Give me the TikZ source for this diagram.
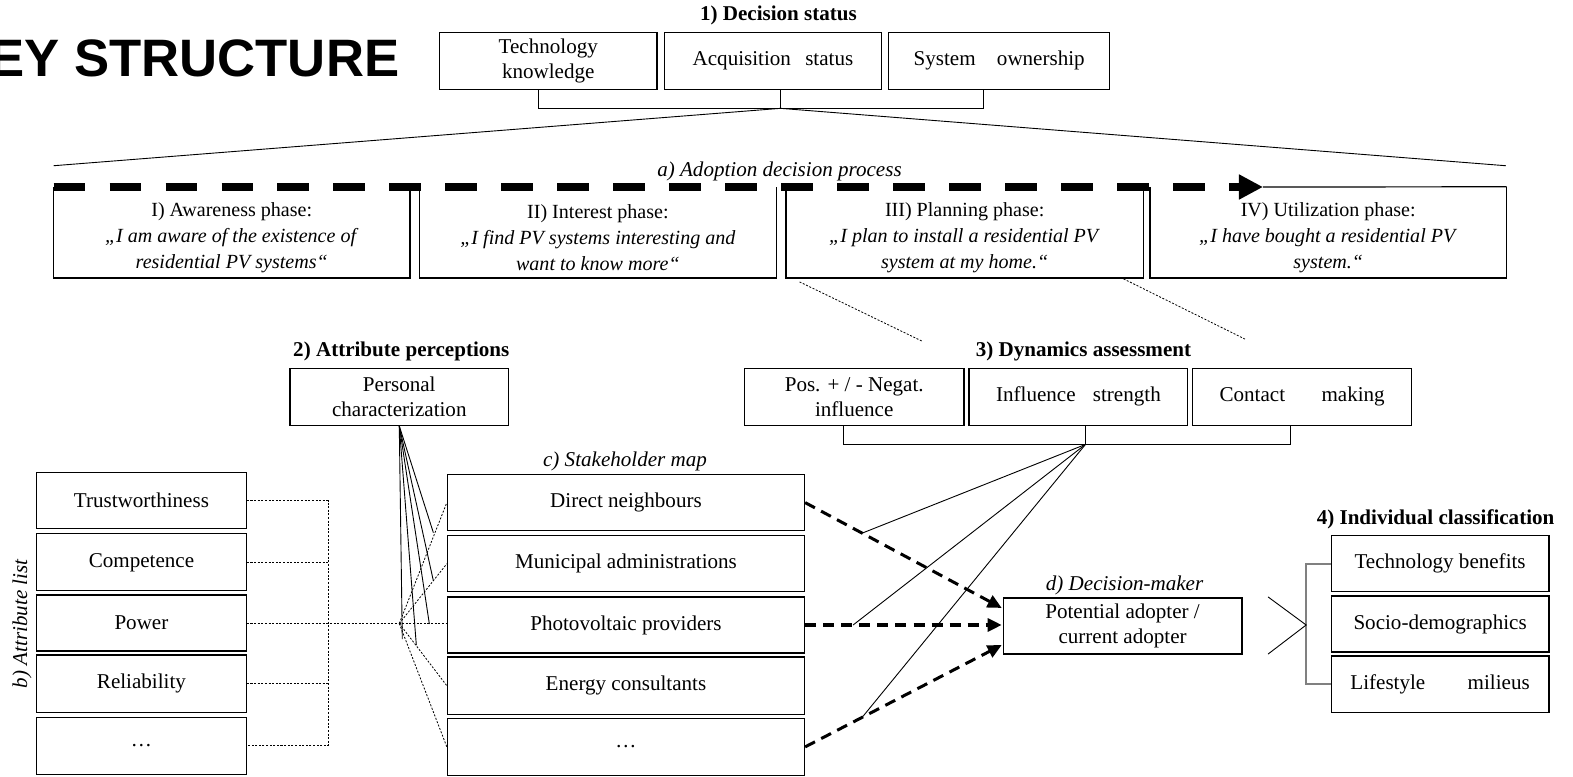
\documentclass[tikz,border=0pt]{standalone}
\usepackage{fontspec}
\setmainfont{Liberation Serif}
\newfontfamily\titlefont{Liberation Sans}
\usetikzlibrary{arrows.meta,calc}
\newcommand{\rbox}[7]{\node[#6, minimum width={(#3)-(#1)}, minimum height={(#4)-(#2)}] (#5) at ({((#1)+(#3))/2},{((#2)+(#4))/2}) {#7};}
\begin{document}
\begin{tikzpicture}[x=1pt,y=-1pt,
  box/.style={draw, line width=1.2pt, inner sep=0pt, align=center, font=\fontsize{21}{25}\selectfont},
  phase/.style={inner sep=0pt},
  ptext/.style={inner sep=0pt, align=center, font=\fontsize{20}{25.7}\selectfont},
  boxline/.style={line width=1.2pt},
  head/.style={inner sep=0pt, font=\fontsize{21}{25}\selectfont\bfseries},
  ital/.style={inner sep=0pt, font=\fontsize{21}{25}\selectfont\itshape},
  thin/.style={line width=0.9pt},
  dots/.style={line width=0.8pt, dash pattern=on 2pt off 1.6pt},
  bigarrow/.style={line width=7.3pt, dash pattern=on 31.3pt off 24.5pt, -{Triangle[length=24pt,width=23.5pt]}},
  dmarrow/.style={line width=3pt, dash pattern=on 11pt off 7pt, -{Triangle[length=14pt,width=13pt]}},
  graybr/.style={draw=black!50, line width=2pt}]
\useasboundingbox (0,0) rectangle (1568,774);

% title
\begin{scope}
\clip (0,0) rectangle (1568,774);
\node[anchor=base west, inner sep=0pt, font={\titlefont\fontsize{52.5}{60}\bfseries\selectfont}] (title) at (-10.6,76.5) {EY STRUCTURE};
\end{scope}

% 1) Decision status
\node[head] (h1) at (776,15) {1) Decision status};
\rbox{438}{32}{655}{89}{tk}{box}{Technology\\knowledge}
\rbox{662}{32}{879}{89}{acq}{box}{Acquisition\hspace{9pt} status}
\rbox{886}{32}{1106}{89}{sys}{box}{System\hspace{16pt} ownership}
\coordinate (b1) at (537,108);
\coordinate (b1m) at (778,108);
\coordinate (b1r) at (980,108);
\draw[thin] (tk.south -| b1) -- (b1) -- (b1r) -- (sys.south -| b1r);
\draw[thin] (acq.south -| b1m) -- (b1m);
\coordinate (wl) at (53.4,165.2);
\coordinate (wr) at (1501,165.2);
\draw[thin] (wl) -- (b1m) -- (wr);

% a) adoption decision process
\node[ital] (la) at (777,171) {a) Adoption decision process};
\rbox{53.4}{186.4}{408.5}{276.9}{p1}{phase}{}
\rbox{418}{186.4}{773.7}{276.9}{p2}{phase}{}
\rbox{783.6}{186.4}{1139.6}{276.9}{p3}{phase}{}
\rbox{1146.5}{186.4}{1501.5}{276.9}{p4}{phase}{}
\foreach \p in {p1,p2,p3,p4}{
  \draw[boxline] (\p.north west) -- (\p.south west) -- (\p.south east) -- (\p.north east);
}
\node[ptext] (t1) at (231,237) {I) Awareness phase:\\\textit{„I am aware of the existence of}\\\textit{residential PV systems“}};
\node[ptext] (t2) at (596,237) {II) Interest phase:\\\textit{„I find PV systems interesting and}\\\textit{want to know more“}};
\node[ptext] (t3) at (961.6,237) {III) Planning phase:\\\textit{„I plan to install a residential PV}\\\textit{system at my home.“}};
\node[ptext] (t4) at (1324,237) {IV) Utilization phase:\\\textit{„I have bought a residential PV}\\\textit{system.“}};
\coordinate (as) at (53.4,186.4);
\coordinate (ae) at (1259,186.4);
\draw[bigarrow] (as) -- (ae);
\draw[boxline] (ae) -- (p4.north east);

% dotted zoom lines from planning phase
\coordinate (d1a) at (797,281);
\coordinate (d1b) at (919,340);
\coordinate (d2a) at (1120,278);
\coordinate (d2b) at (1241,338);
\draw[dots] (d1a) -- (d1b);
\draw[dots] (d2a) -- (d2b);

% 2) Attribute perceptions
\node[head] (h2) at (400,350.6) {2) Attribute perceptions};
\rbox{289}{367}{507}{424}{pc}{box}{Personal\\characterization}

% 3) Dynamics assessment
\node[head] (h3) at (1080,350.6) {3) Dynamics assessment};
\rbox{742}{367}{961}{424}{pos}{box}{Pos. + / - Negat.\\influence}
\rbox{966}{367}{1184}{424}{inf}{box}{Influence\hspace{12pt} strength}
\rbox{1189}{367}{1407}{424}{con}{box}{Contact\hspace{31pt} making}
\coordinate (b3l) at (841,443);
\coordinate (b3m) at (1082,443);
\coordinate (b3r) at (1286,443);
\draw[thin] (pos.south -| b3l) -- (b3l) -- (b3r) -- (con.south -| b3r);
\draw[thin] (inf.south -| b3m) -- (b3m);

% b) attribute list
\node[ital, rotate=90] (lb) at (22,622) {b) Attribute list};
\rbox{36.5}{471}{245.5}{527}{a1}{box}{Trustworthiness}
\rbox{36.5}{532}{245.5}{589}{a2}{box}{Competence}
\rbox{36.5}{593}{245.5}{649}{a3}{box}{Power}
\rbox{36.5}{653}{245.5}{710}{a4}{box}{Reliability}
\rbox{36.5}{715}{245.5}{772}{a5}{box}{…}

% c) stakeholder map
\node[ital] (lc) at (623,460) {c) Stakeholder map};
\rbox{446}{473}{802}{529}{s1}{box}{Direct neighbours}
\rbox{446}{534}{802}{590}{s2}{box}{Municipal administrations}
\rbox{446}{595}{802}{651}{s3}{box}{Photovoltaic providers}
\rbox{446}{655}{802}{712}{s4}{box}{Energy consultants}
\rbox{446}{716}{802}{773}{s5}{box}{…}

% attribute dotted bracket
\coordinate (abx) at (327,0);
\draw[dots] (a1.east) -- (a1.east -| abx) -- (a5.east -| abx) -- (a5.east);
\draw[dots] (a2.east) -- (a2.east -| abx);
\draw[dots] (a4.east) -- (a4.east -| abx);
\draw[dots] (a3.east) -- (a3.east -| s3.west);
\coordinate (cv) at (398,621.5);
\draw[dots] (cv) -- (s1.west);
\draw[dots] (cv) -- (s2.west);
\draw[dots] (cv) -- (s4.west);
\draw[dots] (cv) -- (s5.west);

% fan from personal characterization
\coordinate (f1) at (432,531);
\coordinate (f2) at (432,579);
\coordinate (f3) at (428,622);
\coordinate (f4) at (415,643);
\coordinate (f5) at (401,637);
\foreach \f in {f1,f2,f3,f4,f5}{\draw[thin] (pc.south) -- (\f);}

% d) decision-maker
\node[ital] (ld) at (1121,584) {d) Decision-maker};
\rbox{1000}{596}{1238}{652}{dm}{box}{Potential adopter /\\current adopter}
\coordinate (e1) at (998.5,606);
\coordinate (e2) at (998.5,623);
\coordinate (e3) at (998.5,643);
\draw[dmarrow] (s1.east) -- (e1);
\draw[dmarrow] (s3.east) -- (e2);
\draw[dmarrow] (s5.east) -- (e3);
\draw[thin] (b3m) -- ($(s1.east)!0.29!(e1)$);
\draw[thin] (b3m) -- ($(s3.east)!0.244!(e2)$);
\draw[thin] (b3m) -- ($(s5.east)!0.29!(e3)$);

% 4) Individual classification
\node[head] (h4) at (1431,517.5) {4) Individual classification};
\rbox{1327}{534}{1544}{590}{c1}{box}{Technology benefits}
\rbox{1327}{594}{1544}{650}{c2}{box}{Socio-demographics}
\rbox{1327}{654}{1544}{710}{c3}{box}{Lifestyle\hspace{37pt} milieus}
\coordinate (cbx) at (1302,0);
\draw[graybr] (c1.west) -- (c1.west -| cbx) -- (c3.west -| cbx) -- (c3.west);
\coordinate (ch1) at (1264,595);
\coordinate (ch2) at (1302,623);
\coordinate (ch3) at (1264,652);
\draw[thin] (ch1) -- (ch2) -- (ch3);
\end{tikzpicture}
\end{document}
